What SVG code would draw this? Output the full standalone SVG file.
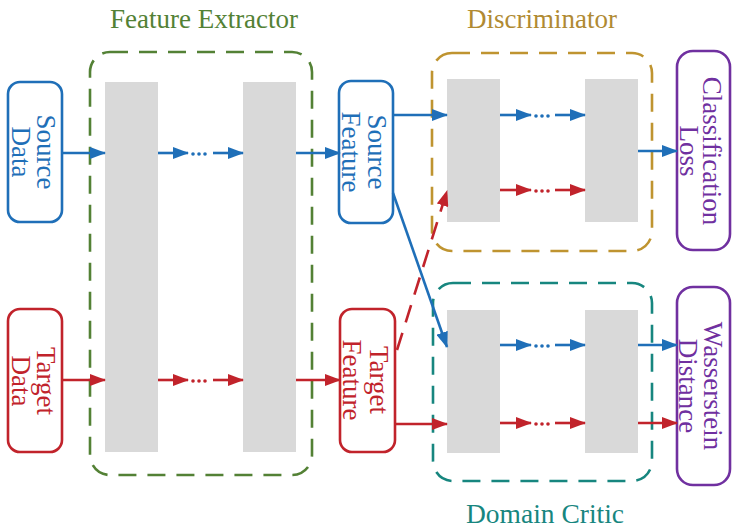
<svg xmlns="http://www.w3.org/2000/svg" width="732" height="528" viewBox="0 0 732 528">
<style>
text{font-family:"Liberation Serif","Times New Roman",serif;font-size:27px;text-anchor:middle}
.gray{fill:#d9d9d9}
.grp{fill:none;stroke-width:2.6;stroke-dasharray:18 11}
.node{fill:#fff;stroke-width:2.6}
.b{stroke:#1f6fb8;fill:none;stroke-width:2.6}
.r{stroke:#c1232b;fill:none;stroke-width:2.6}
.bt{fill:#1f6fb8}.rt{fill:#c1232b}.pt{fill:#7030a0}
.bd{fill:#1f6fb8}.rd{fill:#c1232b}
</style>
<defs>
<marker id="ab" viewBox="0 0 16 12" refX="15" refY="6" markerWidth="16" markerHeight="12" markerUnits="userSpaceOnUse" orient="auto"><path d="M0,0 L16,6 L0,12 z" fill="#1f6fb8"/></marker>
<marker id="ar" viewBox="0 0 16 12" refX="15" refY="6" markerWidth="16" markerHeight="12" markerUnits="userSpaceOnUse" orient="auto"><path d="M0,0 L16,6 L0,12 z" fill="#c1232b"/></marker>
</defs>

<g id="feature-extractor">
<rect class="grp" x="90" y="52" width="222" height="423" rx="20" stroke="#538135"/>
<rect class="gray" x="105" y="82" width="53" height="370"/>
<rect class="gray" x="243" y="82" width="53" height="370"/>
<text x="204" y="28" fill="#538135">Feature Extractor</text>
</g>

<g id="discriminator">
<rect class="grp" x="432" y="53" width="220" height="198" rx="20" stroke="#bf9430"/>
<rect class="gray" x="447" y="79" width="53" height="143"/>
<rect class="gray" x="585" y="79" width="53" height="143"/>
<text x="542" y="28" fill="#b08a32">Discriminator</text>
</g>

<g id="domain-critic">
<rect class="grp" x="433" y="283" width="219" height="198" rx="20" stroke="#17867f"/>
<rect class="gray" x="447" y="310" width="53" height="143"/>
<rect class="gray" x="585" y="310" width="53" height="143"/>
<text x="545" y="523" fill="#17867f" textLength="158" lengthAdjust="spacingAndGlyphs">Domain Critic</text>
</g>

<g id="source-data">
<rect class="node" x="8" y="82" width="54" height="140" rx="12" stroke="#1f6fb8"/>
<g transform="translate(35,152) rotate(90)"><text class="bt" y="-2">Source</text><text class="bt" y="23">Data</text></g>
</g>

<g id="target-data">
<rect class="node" x="8" y="309" width="54" height="143" rx="12" stroke="#c1232b"/>
<g transform="translate(35,381) rotate(90)"><text class="rt" y="-2">Target</text><text class="rt" y="23">Data</text></g>
</g>

<g id="source-feature">
<rect class="node" x="339" y="81" width="54" height="142" rx="12" stroke="#1f6fb8"/>
<g transform="translate(366,152) rotate(90)"><text class="bt" y="-2">Source</text><text class="bt" y="24">Feature</text></g>
</g>

<g id="target-feature">
<rect class="node" x="340" y="309" width="55" height="143" rx="12" stroke="#c1232b"/>
<g transform="translate(367,380) rotate(90)"><text class="rt" y="-3">Target</text><text class="rt" y="24">Feature</text></g>
</g>

<g id="classification-loss">
<rect class="node" x="677" y="51" width="53" height="199" rx="16" stroke="#7030a0"/>
<g transform="translate(703,151) rotate(90)"><text class="pt" y="0">Classification</text><text class="pt" y="23">Loss</text></g>
</g>

<g id="wasserstein-distance">
<rect class="node" x="677" y="287" width="53" height="198" rx="16" stroke="#7030a0"/>
<g transform="translate(703,386) rotate(90)"><text class="pt" y="-1">Wasserstein</text><text class="pt" y="24">Distance</text></g>
</g>

<g id="connectors">
<!-- feature extractor source -->
<path class="b" d="M62,153 H105" marker-end="url(#ab)"/>
<path class="b" d="M158,153 H188" marker-end="url(#ab)"/>
<circle class="bd" cx="193" cy="154" r="1.8"/><circle class="bd" cx="199" cy="154" r="1.8"/><circle class="bd" cx="205" cy="154" r="1.8"/>
<path class="b" d="M213,153 H243" marker-end="url(#ab)"/>
<path class="b" d="M296,153 H340" marker-end="url(#ab)"/>
<!-- feature extractor target -->
<path class="r" d="M62,380 H105" marker-end="url(#ar)"/>
<path class="r" d="M158,380 H188" marker-end="url(#ar)"/>
<circle class="rd" cx="193" cy="381" r="1.8"/><circle class="rd" cx="199" cy="381" r="1.8"/><circle class="rd" cx="205" cy="381" r="1.8"/>
<path class="r" d="M213,380 H243" marker-end="url(#ar)"/>
<path class="r" d="M296,380 H340" marker-end="url(#ar)"/>
<!-- to discriminator / critic -->
<path class="b" d="M393,115 H447" marker-end="url(#ab)"/>
<path class="b" d="M393,193 L447,347" marker-end="url(#ab)"/>
<path class="r" d="M397,350 L447,191" stroke-dasharray="18 11" marker-end="url(#ar)"/>
<path class="r" d="M395,424 H447" marker-end="url(#ar)"/>
<!-- discriminator inner -->
<path class="b" d="M500,115 H531" marker-end="url(#ab)"/>
<circle class="bd" cx="536" cy="116" r="1.8"/><circle class="bd" cx="542" cy="116" r="1.8"/><circle class="bd" cx="548" cy="116" r="1.8"/>
<path class="b" d="M555,115 H585" marker-end="url(#ab)"/>
<path class="r" d="M500,190 H531" marker-end="url(#ar)"/>
<circle class="rd" cx="536" cy="191" r="1.8"/><circle class="rd" cx="542" cy="191" r="1.8"/><circle class="rd" cx="548" cy="191" r="1.8"/>
<path class="r" d="M555,190 H585" marker-end="url(#ar)"/>
<path class="b" d="M638,151 H677" marker-end="url(#ab)"/>
<!-- critic inner -->
<path class="b" d="M500,345 H531" marker-end="url(#ab)"/>
<circle class="bd" cx="536" cy="346" r="1.8"/><circle class="bd" cx="542" cy="346" r="1.8"/><circle class="bd" cx="548" cy="346" r="1.8"/>
<path class="b" d="M555,345 H585" marker-end="url(#ab)"/>
<path class="r" d="M500,423 H531" marker-end="url(#ar)"/>
<circle class="rd" cx="536" cy="424" r="1.8"/><circle class="rd" cx="542" cy="424" r="1.8"/><circle class="rd" cx="548" cy="424" r="1.8"/>
<path class="r" d="M555,423 H585" marker-end="url(#ar)"/>
<path class="b" d="M638,345 H677" marker-end="url(#ab)"/>
<path class="r" d="M638,423 H677" marker-end="url(#ar)"/>
</g>
</svg>
